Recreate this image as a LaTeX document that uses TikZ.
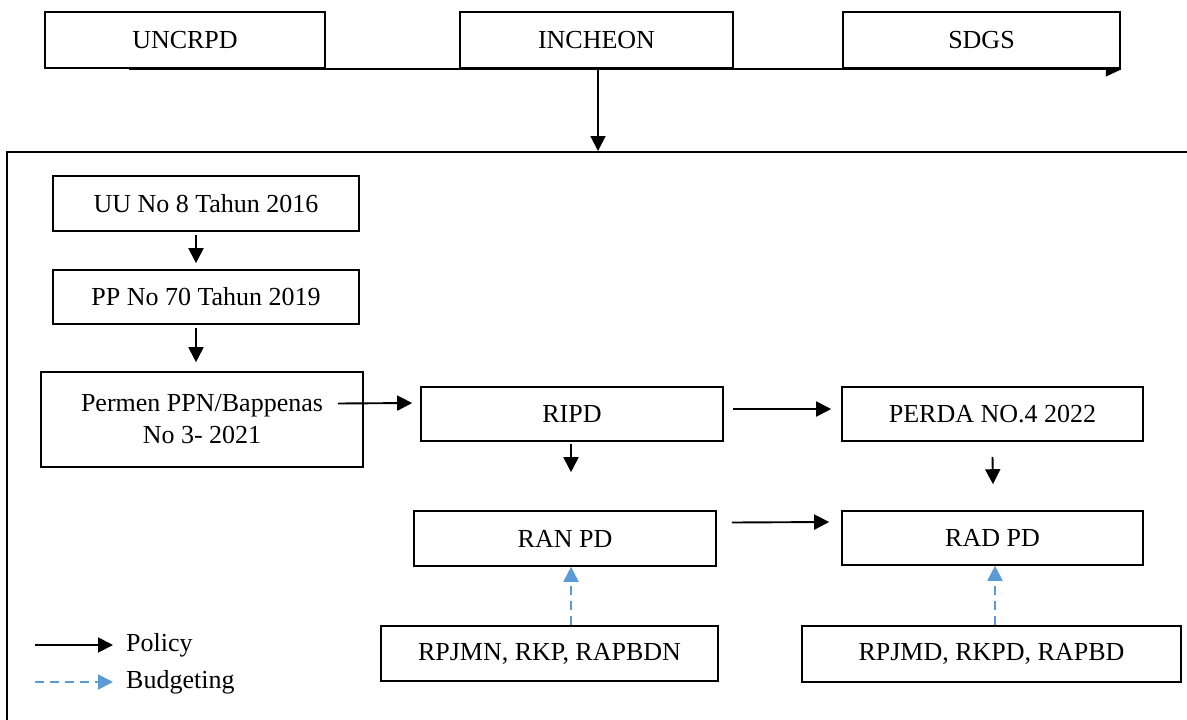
\documentclass[tikz,border=0pt]{standalone}
\usepackage{fontspec}
\setmainfont{Liberation Serif}
\usetikzlibrary{arrows.meta,calc}
\definecolor{budgetblue}{HTML}{5B9BD5}
\begin{document}
\begin{tikzpicture}[x=1pt,y=-1pt,
  every node/.style={font=\fontsize{26}{32}\selectfont},
  box/.style={draw, line width=1.6pt, inner sep=0pt, align=center},
  policy/.style={line width=1.9pt, -{Triangle[length=15pt,width=15pt]}},
  budget/.style={line width=1.9pt, draw=budgetblue, dash pattern=on 9pt off 6pt, -{Triangle[length=15pt,width=15pt,fill=budgetblue]}},
  legendtext/.style={anchor=west, inner sep=0pt}]
\useasboundingbox (0,0) rectangle (1187,720);
% top row
\node[box, minimum width=280pt, minimum height=56pt] (uncrpd) at (185,40) {UNCRPD};
\node[box, minimum width=273pt, minimum height=56pt] (incheon) at (596.5,40) {INCHEON};
\node[box, minimum width=277pt, minimum height=56pt] (sdgs) at (981.5,40) {SDGS};
\draw[line width=1.9pt] ($(uncrpd.south west)+(85,0)$) -- (sdgs.south east);
\fill ($(sdgs.south east)+(0,0.8)$) -- ++(-15,0) -- ++(0,7) -- cycle;
% frame
\coordinate (frametop) at (598,151);
\draw[line width=1.6pt] (1190,152) -- (7,152) -- (7,725);
\draw[policy] (incheon.south -| frametop) -- (frametop);
% left column
\node[box, minimum width=306pt, minimum height=55pt] (uu) at (206,203.5) {UU No 8 Tahun 2016};
\node[box, minimum width=306pt, minimum height=54pt] (pp) at (206,297) {PP No 70 Tahun 2019};
\node[box, minimum width=322pt, minimum height=95pt] (permen) at (202,419.5) {Permen PPN/Bappenas\\No 3- 2021};
\coordinate (c1) at (196,0);
\draw[policy] ($(uu.south -| c1)+(0,3)$) -- ($(pp.north -| c1)+(0,-6)$);
\draw[policy] ($(pp.south -| c1)+(0,3)$) -- ($(permen.north -| c1)+(0,-9)$);
% middle and right
\node[box, minimum width=302pt, minimum height=54pt] (ripd) at (572,414) {RIPD};
\node[box, minimum width=301pt, minimum height=54pt] (perda) at (992.5,414) {PERDA NO.4 2022};
\node[box, minimum width=302pt, minimum height=55pt] (ran) at (565,538.5) {RAN PD};
\node[box, minimum width=301pt, minimum height=54pt] (rad) at (992.5,538) {RAD PD};
\node[box, minimum width=337pt, minimum height=55pt] (rpjmn) at (549.5,653.5) {RPJMN, RKP, RAPBDN};
\node[box, minimum width=379pt, minimum height=56pt] (rpjmd) at (991.5,654) {RPJMD, RKPD, RAPBD};
\draw[policy] ($(permen.east)+(-26,-16)$) -- ($(ripd.west)+(-8,-11)$);
\draw[policy] ($(ripd.east)+(9,-5)$) -- ($(perda.west)+(-10,-5)$);
\coordinate (c2) at (571,0);
\draw[policy] ($(ripd.south -| c2)+(0,2)$) -- ($(ran.north -| c2)+(0,-38)$);
\coordinate (c3) at (993,0);
\draw[policy] ($(perda.south)+(0,15)$) -- ($(rad.north -| c3)+(0,-26)$);
\draw[policy] ($(ran.east)+(15,-16)$) -- ($(rad.west)+(-12,-16)$);
\draw[budget] (rpjmn.north -| c2) -- (ran.south -| c2);
\coordinate (c4) at (995,0);
\draw[budget] (rpjmd.north -| c4) -- (rad.south -| c4);
% legend
\coordinate (l1a) at (35,645);
\coordinate (l1b) at (113,645);
\coordinate (l2a) at (35,682);
\coordinate (l2b) at (113,682);
\draw[policy] (l1a) -- (l1b);
\draw[budget] (l2a) -- (l2b);
\node[legendtext] (pol) at (126,645) {Policy};
\node[legendtext] (bud) at (126,682) {Budgeting};
\end{tikzpicture}
\end{document}
